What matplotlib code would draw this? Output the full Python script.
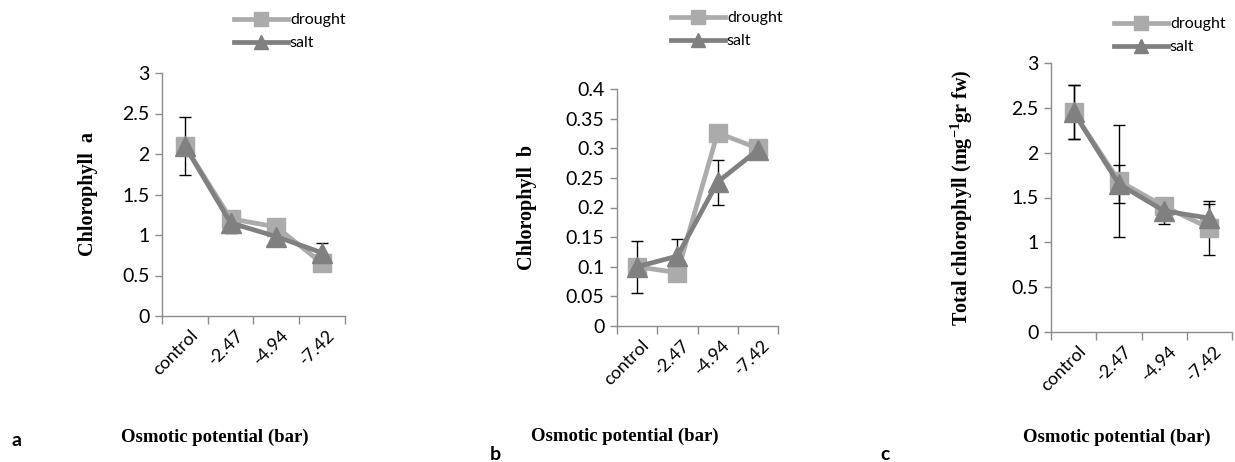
import matplotlib
matplotlib.use("Agg")
import matplotlib.pyplot as plt
import numpy as np

plt.rcParams["font.family"] = ["Lato", "DejaVu Sans"]
plt.rcParams["mathtext.fontset"] = "custom"
plt.rcParams["mathtext.rm"] = "Liberation Serif:bold"
plt.rcParams["mathtext.bf"] = "Liberation Serif:bold"

CATEGORIES = ["control", "-2.47", "-4.94", "-7.42"]
SERIES = ["drought", "salt"]

# panel a: chlorophyll a
chla_drought = [2.10, 1.20, 1.10, 0.65]
chla_salt = [2.10, 1.15, 0.98, 0.78]
chla_drought_err = [0.0, 0.0, 0.0, 0.0]
chla_salt_err = [0.36, 0.12, 0.05, 0.12]

# panel b: chlorophyll b
chlb_drought = [0.100, 0.090, 0.326, 0.300]
chlb_salt = [0.100, 0.118, 0.243, 0.297]
chlb_drought_err = [0.0, 0.0, 0.0, 0.0]
chlb_salt_err = [0.044, 0.029, 0.038, 0.010]

# panel c: total chlorophyll
tot_drought = [2.45, 1.685, 1.40, 1.16]
tot_salt = [2.45, 1.65, 1.35, 1.27]
tot_drought_err = [0.30, 0.625, 0.05, 0.30]
tot_salt_err = [0.30, 0.21, 0.15, 0.16]

COLORS = {"drought": "#ABABAB", "salt": "#808080"}
MARKERS = {"drought": "s", "salt": "^"}
MSIZE = {"drought": 13, "salt": 14}
AXIS_GREY = "#8C8C8C"
SERIF = "Liberation Serif"

PANELS = [
    dict(vals=(chla_drought, chla_salt), errs=(chla_drought_err, chla_salt_err),
         rect=[162 / 1235, 1 - 316 / 462, 183 / 1235, 243 / 462],
         ylim=3, step=0.5, ylabel="Chlorophyll  a",
         leg=(234 / 1235, 1 - 13 / 462), ylab_x=88 / 1235),
    dict(vals=(chlb_drought, chlb_salt), errs=(chlb_drought_err, chlb_salt_err),
         rect=[617 / 1235, 1 - 326 / 462, 161 / 1235, 237 / 462],
         ylim=0.4, step=0.05, ylabel="Chlorophyll  b",
         leg=(671 / 1235, 1 - 11 / 462), ylab_x=527 / 1235),
    dict(vals=(tot_drought, tot_salt), errs=(tot_drought_err, tot_salt_err),
         rect=[1051 / 1235, 1 - 332 / 462, 181 / 1235, 269 / 462],
         ylim=3, step=0.5, ylabel="Total chlorophyll (mg$^{-1}$gr fw)",
         leg=(1114 / 1235, 1 - 17 / 462), ylab_x=962 / 1235),
]

fig = plt.figure(figsize=(12.35, 4.62), dpi=100)
x = np.arange(len(CATEGORIES)) + 0.5

for p in PANELS:
    ax = fig.add_axes(p["rect"])
    for name, vals, err in zip(SERIES, p["vals"], p["errs"]):
        ax.errorbar(x, vals, yerr=err, fmt="none", ecolor="black", elinewidth=1,
                    capsize=4, capthick=1, zorder=2)
    for name, vals in zip(SERIES, p["vals"]):
        ax.plot(x, vals, color=COLORS[name], lw=3.4, marker=MARKERS[name],
                ms=MSIZE[name], label=name, zorder=3)

    ax.set_xlim(0, len(CATEGORIES))
    ax.set_ylim(0, p["ylim"])
    yt = np.arange(0, p["ylim"] + p["step"] / 2, p["step"])
    ax.set_yticks(yt)
    ax.set_yticklabels(["{:g}".format(round(v, 2)) for v in yt], fontsize=14)
    ax.set_xticks(np.arange(len(CATEGORIES) + 1))
    ax.set_xticklabels([])
    ax.set_xticks(x + 0.1, minor=True)
    ax.set_xticklabels(CATEGORIES, minor=True, rotation=45, ha="right",
                       rotation_mode="anchor", fontsize=13)
    ax.tick_params(axis="x", which="minor", length=0, pad=8)
    ax.tick_params(axis="both", which="major", direction="out", length=5,
                   color=AXIS_GREY, width=1, pad=4)
    ax.tick_params(axis="x", which="major", length=6)
    for side in ("top", "right"):
        ax.spines[side].set_visible(False)
    for side in ("left", "bottom"):
        ax.spines[side].set_color(AXIS_GREY)
        ax.spines[side].set_linewidth(1)
    ax.patch.set_alpha(0)

    fig.text(p["ylab_x"], p["rect"][1] + p["rect"][3] / 2, p["ylabel"], rotation=90,
             ha="center", va="center", family=SERIF, fontweight="bold", fontsize=14.5)

    ax.legend(loc="upper left", bbox_to_anchor=p["leg"], bbox_transform=fig.transFigure,
              frameon=False, fontsize=11.5, handlelength=3.4, handletextpad=0.1,
              borderpad=0, borderaxespad=0, labelspacing=0.55, markerscale=0.75)

# panel letters and shared x-axis titles
fig.text(12 / 1235, 1 - 440 / 462, "a", fontsize=14, fontweight="bold", va="center")
fig.text(490 / 1235, 1 - 455 / 462, "b", fontsize=14, fontweight="bold", va="center")
fig.text(880 / 1235, 1 - 455 / 462, "c", fontsize=14, fontweight="bold", va="center")
for cx, cy in [(215, 437), (625, 436), (1117, 437)]:
    fig.text(cx / 1235, 1 - cy / 462, "Osmotic potential (bar)", ha="center", va="center",
             family=SERIF, fontweight="bold", fontsize=13.5)

fig.savefig("out.png", dpi=100)
